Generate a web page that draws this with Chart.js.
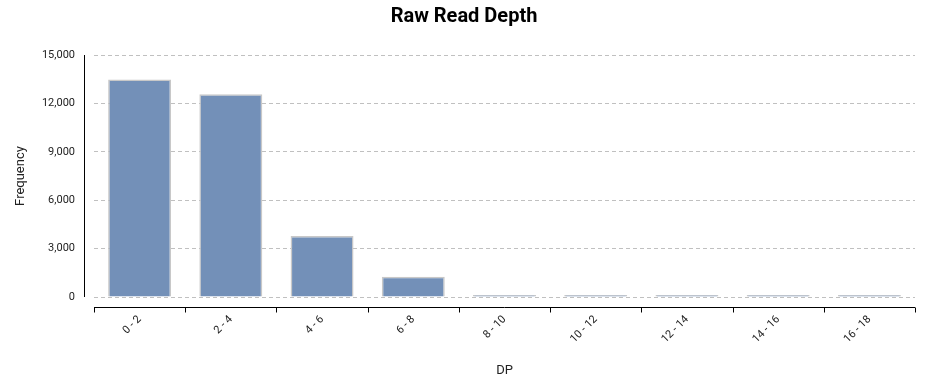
<!DOCTYPE html>
<html>
<head>
<meta charset="utf-8">
<script src="https://cdn.jsdelivr.net/npm/chart.js@4/dist/chart.umd.min.js"></script>
<style>
  html, body { margin: 0; padding: 0; background: #ffffff; }
  #wrap { width: 928px; height: 383px; position: relative; }
</style>
</head>
<body>
<div id="wrap"><canvas id="c" width="928" height="383"></canvas></div>
<script>
const categories = ["0 - 2", "2 - 4", "4 - 6", "6 - 8", "8 - 10", "10 - 12", "12 - 14", "14 - 16", "16 - 18"];
const frequency = [13480, 12560, 3780, 1260, 50, 25, 20, 15, 15];
const yTicks = [0, 3000, 6000, 9000, 12000, 15000];

const offsetAxes = {
  id: 'offsetAxes',
  afterDraw(chart) {
    const ctx = chart.ctx;
    const a = chart.chartArea;
    const xs = chart.scales.x;
    ctx.save();
    ctx.strokeStyle = '#000000';
    ctx.lineWidth = 1;
    ctx.beginPath();
    ctx.moveTo(a.left - 9.5, a.top);
    ctx.lineTo(a.left - 9.5, a.bottom);
    ctx.stroke();
    const yAx = a.bottom + 10.5;
    ctx.beginPath();
    ctx.moveTo(a.left, yAx);
    ctx.lineTo(a.right, yAx);
    ctx.stroke();
    const n = categories.length;
    const step = xs.getPixelForValue(1) - xs.getPixelForValue(0);
    for (let i = 0; i <= n; i++) {
      let px = (i < n) ? xs.getPixelForValue(i) - step / 2 : xs.getPixelForValue(n - 1) + step / 2;
      px = Math.round(px) + 0.5;
      ctx.beginPath();
      ctx.moveTo(px, yAx);
      ctx.lineTo(px, yAx + 5);
      ctx.stroke();
    }
    ctx.restore();
  }
};

new Chart(document.getElementById('c'), {
  type: 'bar',
  data: {
    labels: categories,
    datasets: [{
      label: 'Frequency',
      data: frequency,
      backgroundColor: '#7390b8',
      borderColor: '#c8c8c8',
      borderWidth: 1.5,
      minBarLength: 2,
      categoryPercentage: 1.0,
      barPercentage: 0.69
    }]
  },
  options: {
    responsive: false,
    animation: false,
    devicePixelRatio: 1,
    layout: { padding: { left: 13, right: 13, top: 0, bottom: 0 } },
    plugins: {
      legend: { display: false },
      tooltip: { enabled: false },
      title: {
        display: true,
        text: 'Raw Read Depth',
        color: '#000000',
        font: { family: 'Roboto', size: 20, weight: 'bold' },
        padding: { top: 4.5, bottom: 26.5 }
      }
    },
    scales: {
      x: {
        type: 'category',
        offset: true,
        afterFit(scale) { scale.height = 86; },
        grid: { display: false, drawTicks: false },
        border: { display: false },
        ticks: {
          color: '#222222',
          font: { family: 'Roboto', size: 11 },
          padding: 16,
          maxRotation: 45,
          minRotation: 45,
          autoSkip: false
        },
        title: {
          display: true,
          text: 'DP',
          color: '#222222',
          font: { family: 'Roboto', size: 13 },
          padding: { top: 4, bottom: 4 }
        }
      },
      y: {
        min: 0,
        max: 15000,
        afterFit(scale) { scale.width = 81; },
        afterBuildTicks(scale) { scale.ticks = yTicks.map(v => ({ value: v })); },
        grid: {
          color: '#c0c0c0',
          lineWidth: 1,
          drawTicks: false
        },
        border: { display: false, dash: [4, 3] },
        ticks: {
          color: '#222222',
          font: { family: 'Roboto', size: 11 },
          padding: 19,
          callback: v => v.toLocaleString('en-US')
        },
        title: {
          display: true,
          text: 'Frequency',
          color: '#222222',
          font: { family: 'Roboto', size: 13 },
          padding: { top: 0, bottom: 0 }
        }
      }
    }
  },
  plugins: [offsetAxes]
});
</script>
</body>
</html>
